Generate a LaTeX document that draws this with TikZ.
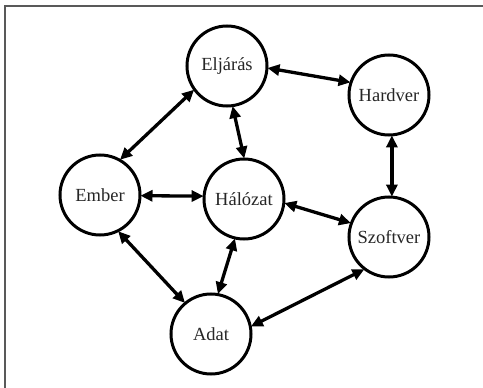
\documentclass[tikz,border=0pt]{standalone}
\usepackage{fontspec}
\setmainfont{Liberation Serif}
\usetikzlibrary{arrows.meta}
\begin{document}
\begin{tikzpicture}[x=1pt,y=-1pt,
  ent/.style={circle, draw=black, line width=3pt, minimum size=80pt, inner sep=0pt,
    font=\fontsize{18.5}{20}\selectfont, text=black!85},
  link/.style={line width=3.3pt, {Triangle[length=12pt,width=11pt]}-{Triangle[length=12pt,width=11pt]}, shorten <=-1pt, shorten >=-1pt},
  frame/.style={draw=black!65, line width=1.5pt}]
\useasboundingbox (0,0) rectangle (483,388);
\draw[frame] (5,388) -- (5,6) -- (483,6);
\node[ent] (elj) at (227,66) {Eljárás};
\node[ent] (hard) at (389,95) {Hardver};
\node[ent] (emb) at (100,195) {Ember};
\node[ent] (hal) at (244,199) {Hálózat};
\node[ent] (szo) at (389,237) {Szoftver};
\node[ent] (adat) at (211,334) {Adat};
\draw[link] (elj.-3) -- (hard.162);
\draw[link] (elj.216) -- (emb.60);
\draw[link] (elj.278) -- (hal.90);
\draw[link] (emb.-1) -- (hal.176);
\draw[link] (hard.274) -- (szo.86);
\draw[link] (hal.-6) -- (szo.160);
\draw[link] (emb.297) -- (adat.130);
\draw[link] (hal.257) -- (adat.80);
\draw[link] (adat.11) -- (szo.232);
\end{tikzpicture}
\end{document}
